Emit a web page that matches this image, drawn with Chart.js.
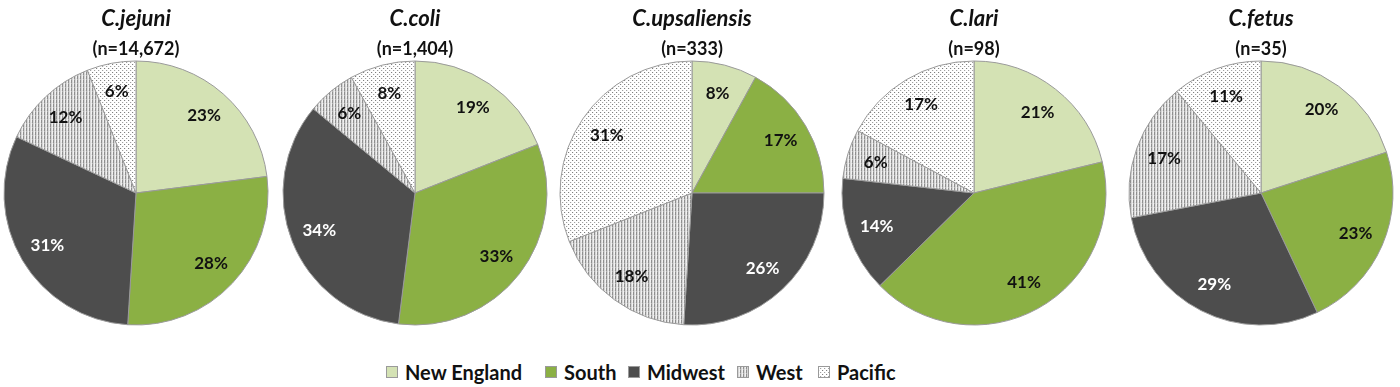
<!DOCTYPE html>
<html><head><meta charset="utf-8">
<script src="https://cdn.jsdelivr.net/npm/chart.js@4.4.1/dist/chart.umd.min.js"></script>
<style>
html,body{margin:0;padding:0;background:#fff;width:1400px;height:387px;overflow:hidden;position:relative;font-family:Lato,sans-serif}
canvas.pie{position:absolute;top:0}
.item{position:absolute;top:358px;height:28px;display:flex;align-items:center;font:bold 20px Lato,sans-serif;color:#111;white-space:nowrap}
.item canvas{width:12px;height:12px;margin-right:7px;box-sizing:border-box}
</style></head><body>
<canvas class="pie" id="p0" width="280" height="330"></canvas>
<canvas class="pie" id="p1" width="280" height="330"></canvas>
<canvas class="pie" id="p2" width="280" height="330"></canvas>
<canvas class="pie" id="p3" width="280" height="330"></canvas>
<canvas class="pie" id="p4" width="280" height="330"></canvas>
<div id="legend"></div>
<script>
// ---- data ----
const regions = ['New England', 'South', 'Midwest', 'West', 'Pacific'];
const species = ['C.jejuni', 'C.coli', 'C.upsaliensis', 'C.lari', 'C.fetus'];
const sampleSizes = ['(n=14,672)', '(n=1,404)', '(n=333)', '(n=98)', '(n=35)'];
const jejuni = [23, 28, 31, 12, 6];
const coli = [19, 33, 34, 6, 8];
const upsaliensis = [8, 17, 26, 18, 31];
const lari = [21, 41, 14, 6, 17];
const fetus = [20, 23, 29, 17, 11];
const seriesValues = [jejuni, coli, upsaliensis, lari, fetus];

// ---- styling ----
const pieCentersX = [136, 415, 692, 974, 1261];
const legendX = [386, 545, 628, 737, 818];

function makePattern(kind) {
  const c = document.createElement('canvas');
  const ctx = c.getContext('2d');
  if (kind === 'west') {
    c.width = 3; c.height = 4;
    ctx.fillStyle = '#f2f2f2'; ctx.fillRect(0, 0, 3, 4);
    ctx.fillStyle = '#8f8f8f'; ctx.fillRect(0, 0, 1, 3);
    ctx.fillStyle = '#b4b4b4'; ctx.fillRect(0, 3, 1, 1);
    ctx.fillStyle = '#d6d6d6'; ctx.fillRect(1, 0, 1, 4);
    ctx.fillStyle = '#e4e4e4'; ctx.fillRect(2, 2, 1, 1);
  } else {
    c.width = 4; c.height = 4;
    ctx.fillStyle = '#ffffff'; ctx.fillRect(0, 0, 4, 4);
    ctx.fillStyle = '#7f7f7f'; ctx.fillRect(0, 0, 1, 1);
    ctx.fillStyle = '#a0a0a0'; ctx.fillRect(2, 2, 1, 1);
    ctx.fillStyle = '#ececec'; ctx.fillRect(1, 0, 1, 1);
    ctx.fillStyle = '#ececec'; ctx.fillRect(3, 2, 1, 1);
  }
  return ctx.createPattern(c, 'repeat');
}

function start() {
  const fills = ['#d4e2b4', '#8bb044', '#4d4d4d', makePattern('west'), makePattern('pacific')];
  const labelColors = ['#111', '#111', '#fff', '#111', '#111'];

  const pctLabels = {
    id: 'pctLabels',
    afterDatasetsDraw(chart) {
      const ctx = chart.ctx;
      const vals = chart.data.datasets[0].data;
      chart.getDatasetMeta(0).data.forEach((arc, j) => {
        const p = arc.getProps(['x', 'y', 'startAngle', 'endAngle', 'outerRadius'], true);
        const a = (p.startAngle + p.endAngle) / 2;
        const r = p.outerRadius * 0.78;
        ctx.save();
        ctx.font = 'bold 17px Lato';
        ctx.fillStyle = labelColors[j];
        ctx.textAlign = 'center';
        ctx.textBaseline = 'middle';
        ctx.fillText(vals[j] + '%', p.x + Math.cos(a) * r, p.y + Math.sin(a) * r);
        ctx.restore();
      });
    }
  };

  species.forEach((sp, i) => {
    const cv = document.getElementById('p' + i);
    cv.style.left = (pieCentersX[i] - 140) + 'px';
    new Chart(cv, {
      type: 'pie',
      data: {
        labels: regions,
        datasets: [{
          data: seriesValues[i],
          backgroundColor: fills,
          borderColor: '#9a9a9a',
          borderWidth: 1,
          radius: 132,
          clip: false
        }]
      },
      options: {
        responsive: false,
        animation: false,
        layout: { padding: { bottom: 6 } },
        plugins: {
          legend: { display: false },
          tooltip: { enabled: false },
          title: {
            display: true, text: sp, color: '#111',
            font: { family: 'Lato', size: 22, weight: 'bold', style: 'italic' },
            padding: { top: 6, bottom: 6 }
          },
          subtitle: {
            display: true, text: sampleSizes[i], color: '#111',
            font: { family: 'Lato', size: 18, weight: 'bold' },
            padding: { top: 0, bottom: 2 }
          }
        }
      },
      plugins: [pctLabels]
    });
  });

  const legend = document.getElementById('legend');
  regions.forEach((name, j) => {
    const item = document.createElement('div');
    item.className = 'item';
    item.style.left = legendX[j] + 'px';
    const sw = document.createElement('canvas');
    sw.width = 12; sw.height = 12;
    const sctx = sw.getContext('2d');
    sctx.fillStyle = fills[j]; sctx.fillRect(0, 0, 12, 12);
    sctx.strokeStyle = '#9a9a9a'; sctx.lineWidth = 1; sctx.strokeRect(0.5, 0.5, 11, 11);
    item.appendChild(sw);
    const t = document.createElement('span');
    t.textContent = name;
    item.appendChild(t);
    legend.appendChild(item);
  });
}

Promise.all([
  document.fonts.load('bold 16px Lato'),
  document.fonts.load('italic bold 22px Lato')
]).then(start, start);
</script>
</body></html>
